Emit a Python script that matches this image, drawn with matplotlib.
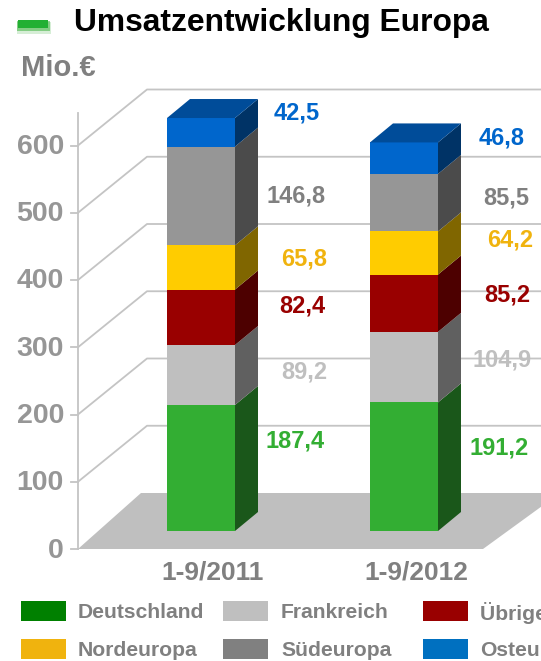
#!/usr/bin/env python3
import matplotlib
matplotlib.use("Agg")
import numpy as np
import matplotlib.pyplot as plt
from matplotlib.patches import Polygon, Rectangle

plt.rcParams['font.family'] = ['Liberation Sans', 'DejaVu Sans']

# --- data ---
periods = ["1-9/2011", "1-9/2012"]
regions = ["Deutschland", "Frankreich", "Übriges Europa", "Nordeuropa", "Südeuropa", "Osteuropa"]
values_2011 = [187.4, 89.2, 82.4, 65.8, 146.8, 42.5]
values_2012 = [191.2, 104.9, 85.2, 64.2, 85.5, 46.8]
labels_2011 = ["187,4", "89,2", "82,4", "65,8", "146,8", "42,5"]
labels_2012 = ["191,2", "104,9", "85,2", "64,2", "85,5", "46,8"]
y_ticks = [0, 100, 200, 300, 400, 500, 600]

# --- colours ---
front = ["#33AE33", "#BFBFBF", "#990000", "#FFCC00", "#969696", "#0066CC"]
side = ["#1A571A", "#606060", "#4D0000", "#806600", "#4B4B4B", "#003366"]
top_col = "#004C99"
label_col = ["#33AE33", "#BFBFBF", "#990000", "#F0B30E", "#808080", "#0066CC"]
legend_col = ["#008000", "#BFBFBF", "#990000", "#F0B30E", "#808080", "#0070C0"]
GRID = "#C4C4C4"
TXT = "#808080"

fig = plt.figure(figsize=(5.41, 6.61), dpi=100)
ax = fig.add_axes([0, 0, 1, 1])
ax.set_xlim(0, 541)
ax.set_ylim(661, 0)
ax.axis("off")

# pixel scale of the value axis
Y0, PX = 549, 0.6725
def vy(v):
    return Y0 - v * PX

DX, DY = 66, -56     # depth of the 3d box

# --- floor ---
ax.add_patch(Polygon([(78, Y0), (78 + 63, Y0 + DY), (560, Y0 + DY), (483, Y0)],
                     fc="#BFBFBF", ec="none", zorder=1))

# --- grid + axis ---
for t in y_ticks[1:]:
    y = vy(t)
    ax.plot([78, 78 + DX + 3, 541], [y, y + DY, y + DY], color=GRID, lw=1.3, zorder=0.5)
for t in y_ticks:
    y = vy(t)
    ax.plot([71, 78], [y, y], color=GRID, lw=1.3, zorder=2)
    ax.text(64, y + 1.5, str(t), ha="right", va="center", fontsize=20.5,
            fontweight="bold", color="#969696")
ax.plot([78, 78], [113, Y0], color=GRID, lw=1.3, zorder=2)

# --- bars ---
BASE = 531
BDX, BDY = 23, -19
def draw_stack(x0, x1, vals, labs, lab_pos):
    b = 0.0
    for i, v in enumerate(vals):
        y_b = BASE - b * PX
        y_t = BASE - (b + v) * PX
        ax.add_patch(Polygon([(x0, y_b), (x1, y_b), (x1, y_t), (x0, y_t)],
                             fc=front[i], ec="none", zorder=3))
        ax.add_patch(Polygon([(x1, y_b), (x1 + BDX, y_b + BDY), (x1 + BDX, y_t + BDY), (x1, y_t)],
                             fc=side[i], ec="none", zorder=3))
        ax.text(lab_pos[i][0], lab_pos[i][1], labs[i], ha="center", va="center",
                fontsize=17, fontweight="bold", color=label_col[i], zorder=4)
        b += v
    y_t = BASE - b * PX
    ax.add_patch(Polygon([(x0, y_t), (x1, y_t), (x1 + BDX, y_t + BDY), (x0 + BDX, y_t + BDY)],
                         fc=top_col, ec="none", zorder=3))

draw_stack(167, 235, values_2011, labels_2011,
           [(295, 441), (304, 372), (302, 306), (304, 259), (296, 196), (297, 113)])
draw_stack(370, 438, values_2012, labels_2012,
           [(499, 448), (502, 360), (507, 295), (510, 240), (506, 198), (502, 138)])

# --- x labels ---
for cx, p in zip([213, 416], periods):
    ax.text(cx, 572, p, ha="center", va="center", fontsize=19, fontweight="bold", color=TXT)

# --- title ---
ax.add_patch(Rectangle((17, 22), 34, 12, fc="#33AE33", ec="none", alpha=0.2))
ax.add_patch(Rectangle((17, 21), 33, 10, fc="#33AE33", ec="none", alpha=0.5))
ax.add_patch(Rectangle((18, 20), 30, 8, fc="#22B033", ec="none"))
ax.text(74, 23, "Umsatzentwicklung Europa", ha="left", va="center", fontsize=22.9,
        fontweight="bold", color="black")
ax.text(21, 68, "Mio.€", ha="left", va="center", fontsize=21, fontweight="bold", color=TXT)

# --- legend ---
leg_x = [21, 223, 423]
leg_txt_x = [78, 281, 480]
leg_y = [611, 649]
for i, r in enumerate(regions):
    row, col = i // 3, i % 3
    ax.add_patch(Rectangle((leg_x[col], leg_y[row] - 10), 45, 20,
                           fc=legend_col[i], ec="none"))
    ax.text(leg_txt_x[col], leg_y[row] + 1.5, r, ha="left", va="center",
            fontsize=15.2, fontweight="bold", color=TXT)

fig.savefig("out.png", dpi=100)
